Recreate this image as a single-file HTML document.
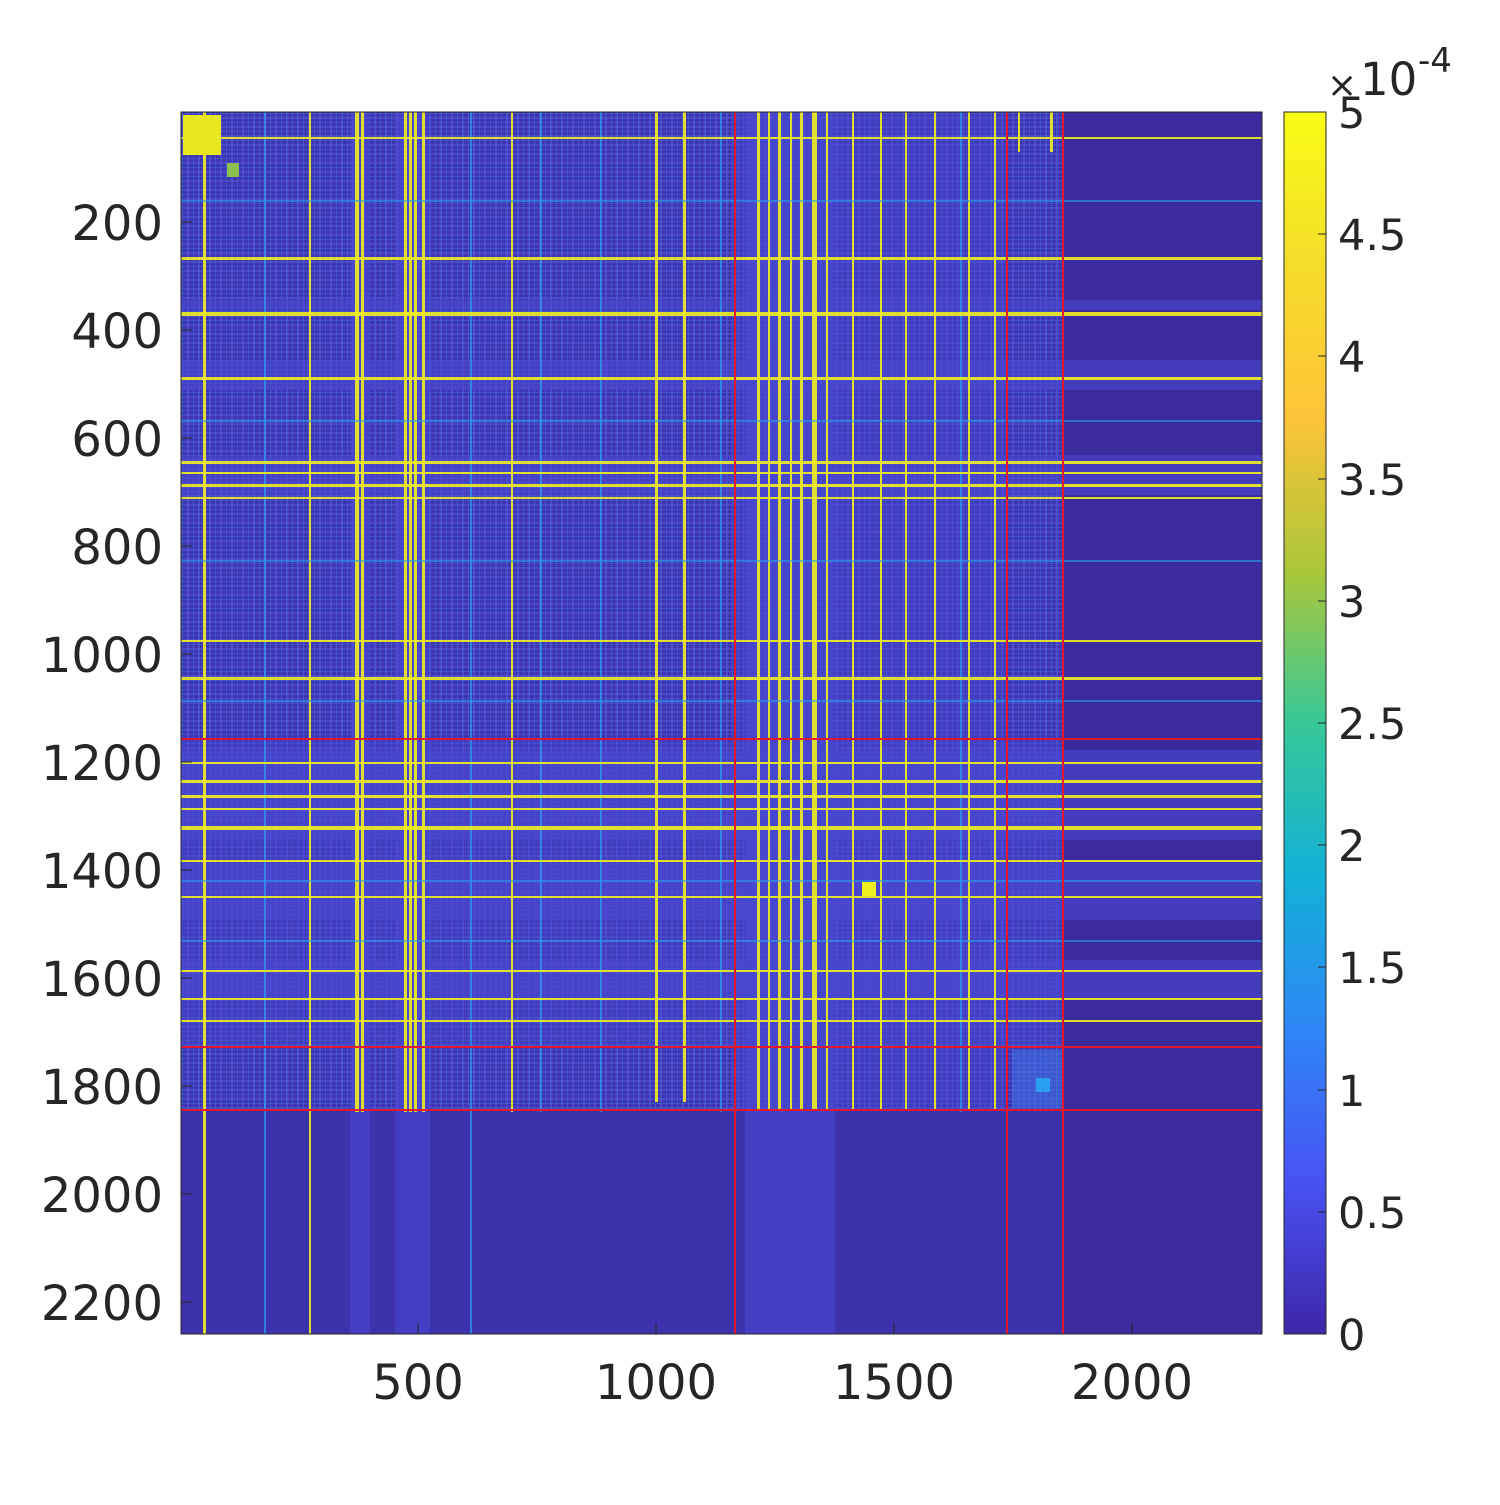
<!DOCTYPE html>
<html><head><style>
body{margin:0;background:#fff;}
svg text{font-family:"DejaVu Sans","Liberation Sans",sans-serif;fill:#262626;}
</style></head><body>
<svg width="1500" height="1500" viewBox="0 0 1500 1500" xmlns="http://www.w3.org/2000/svg">
<defs>
<linearGradient id="par" x1="0" y1="1" x2="0" y2="0">
<stop offset="0" stop-color="#3e26a8"/>
<stop offset="0.125" stop-color="#4852f4"/>
<stop offset="0.25" stop-color="#2e87f7"/>
<stop offset="0.375" stop-color="#12b1d6"/>
<stop offset="0.5" stop-color="#37c897"/>
<stop offset="0.625" stop-color="#abc739"/>
<stop offset="0.75" stop-color="#fec338"/>
<stop offset="0.875" stop-color="#f5dd2a"/>
<stop offset="1" stop-color="#f9fb15"/>
</linearGradient>
<pattern id="tv" width="11" height="13" patternUnits="userSpaceOnUse">
<rect x="0" y="0" width="2" height="13" fill="#5560e0" opacity="0.5"/>
<rect x="6" y="0" width="1" height="13" fill="#3a8ff0" opacity="0.35"/>
</pattern>
<pattern id="th" width="17" height="9" patternUnits="userSpaceOnUse">
<rect x="0" y="0" width="17" height="2" fill="#5560e0" opacity="0.45"/>
<rect x="0" y="5" width="17" height="1" fill="#3a8ff0" opacity="0.3"/>
</pattern>
<clipPath id="c"><rect x="181" y="112" width="1081" height="1222"/></clipPath>
</defs>
<g clip-path="url(#c)">
<rect x="181" y="112" width="1081" height="1222" fill="#3b2b9f"/>
<rect x="181" y="112" width="882" height="998" fill="#4034b2"/>
<rect x="181" y="112" width="882" height="998" fill="url(#tv)"/>
<rect x="181" y="112" width="882" height="998" fill="url(#th)"/>
<rect x="735" y="112" width="272" height="998" fill="#4a48d0" opacity="0.35"/>
<rect x="181" y="739" width="882" height="308" fill="#4a48d0" opacity="0.35"/>
<rect x="181" y="1110" width="882" height="224" fill="#3e31ac"/>
<!-- horizontal bands across -->
<g fill="#4a48d0" opacity="0.6">
<rect x="181" y="300" width="1081" height="10"/>
<rect x="181" y="360" width="1081" height="30"/>
<rect x="181" y="455" width="1081" height="40"/>
<rect x="181" y="750" width="1081" height="90"/>
<rect x="181" y="860" width="1081" height="60"/>
<rect x="181" y="960" width="1081" height="40"/>
</g>
<g fill="#4a48d0" opacity="0.6">
<rect x="350" y="112" width="20" height="1222"/>
<rect x="395" y="112" width="35" height="1222"/>
<rect x="745" y="112" width="90" height="1222"/>
</g>
<!-- yellow vertical lines -->
<g fill="#f0f020" opacity="0.9">
<rect x="203" y="112" width="3" height="1222"/>
<rect x="309" y="112" width="2" height="1222"/>
<rect x="355" y="112" width="4" height="1000"/>
<rect x="361" y="112" width="3" height="1000"/>
<rect x="404" y="112" width="3" height="1000"/>
<rect x="409" y="112" width="3" height="1000"/>
<rect x="414" y="112" width="3" height="1000"/>
<rect x="422" y="112" width="3" height="1000"/>
<rect x="511" y="112" width="2" height="1000"/>
<rect x="655" y="112" width="3" height="990"/>
<rect x="683" y="112" width="3" height="990"/>
<rect x="757" y="112" width="3" height="998"/>
<rect x="768" y="112" width="2" height="998"/>
<rect x="778" y="112" width="3" height="998"/>
<rect x="790" y="112" width="2" height="998"/>
<rect x="800" y="112" width="3" height="998"/>
<rect x="812" y="112" width="5" height="998"/>
<rect x="826" y="112" width="2" height="998"/>
<rect x="852" y="112" width="2" height="998"/>
<rect x="880" y="112" width="2" height="998"/>
<rect x="905" y="112" width="2" height="998"/>
<rect x="934" y="112" width="2" height="998"/>
<rect x="968" y="112" width="2" height="998"/>
<rect x="994" y="112" width="2" height="998"/>
<rect x="1018" y="112" width="2" height="40"/>
<rect x="1050" y="112" width="3" height="40"/>
</g>
<g fill="#2a9ff0" opacity="0.7">
<rect x="264" y="112" width="2" height="1222"/>
<rect x="470" y="112" width="2" height="1222"/>
<rect x="540" y="112" width="2" height="1000"/>
<rect x="600" y="112" width="2" height="1000"/>
<rect x="720" y="112" width="2" height="1000"/>
<rect x="960" y="112" width="2" height="1000"/>
</g>
<!-- yellow horizontal lines -->
<g fill="#f0f020" opacity="0.9">
<rect x="181" y="137" width="1081" height="2"/>
<rect x="181" y="257" width="1081" height="3"/>
<rect x="181" y="312" width="1081" height="4"/>
<rect x="181" y="377" width="1081" height="3"/>
<rect x="181" y="461" width="1081" height="3"/>
<rect x="181" y="472" width="1081" height="2"/>
<rect x="181" y="484" width="1081" height="3"/>
<rect x="181" y="497" width="1081" height="2"/>
<rect x="181" y="640" width="1081" height="2"/>
<rect x="181" y="677" width="1081" height="3"/>
<rect x="181" y="762" width="1081" height="2"/>
<rect x="181" y="780" width="1081" height="3"/>
<rect x="181" y="795" width="1081" height="3"/>
<rect x="181" y="808" width="1081" height="2"/>
<rect x="181" y="826" width="1081" height="4"/>
<rect x="181" y="860" width="1081" height="2"/>
<rect x="181" y="896" width="1081" height="2"/>
<rect x="181" y="970" width="1081" height="2"/>
<rect x="181" y="998" width="1081" height="2"/>
<rect x="181" y="1020" width="1081" height="2"/>
</g>
<g fill="#2a9ff0" opacity="0.6">
<rect x="181" y="200" width="1081" height="2"/>
<rect x="181" y="420" width="1081" height="2"/>
<rect x="181" y="560" width="1081" height="2"/>
<rect x="181" y="700" width="1081" height="2"/>
<rect x="181" y="880" width="1081" height="2"/>
<rect x="181" y="940" width="1081" height="2"/>
</g>
<rect x="183" y="115" width="38" height="40" fill="#e8e820"/>
<rect x="227" y="163" width="12" height="14" fill="#8cbf50"/>
<rect x="862" y="882" width="14" height="14" fill="#f0f020"/>
<rect x="1012" y="1050" width="50" height="58" fill="#3a78e8" opacity="0.5"/>
<rect x="1036" y="1078" width="14" height="14" fill="#2a9ff0"/>
<g fill="#e0182a">
<rect x="734" y="112" width="2" height="1222"/>
<rect x="1006" y="112" width="2" height="1222"/>
<rect x="1062" y="112" width="2" height="1222"/>
<rect x="181" y="738" width="1081" height="2"/>
<rect x="181" y="1046" width="1081" height="2"/>
<rect x="181" y="1109" width="1081" height="2"/>
</g>
</g>
<rect x="181" y="112" width="1081" height="1222" fill="none" stroke="#262626" stroke-width="1"/>
<g stroke="#262626" stroke-width="1">
<line x1="418" y1="1334" x2="418" y2="1323"/><line x1="656" y1="1334" x2="656" y2="1323"/>
<line x1="894" y1="1334" x2="894" y2="1323"/><line x1="1132" y1="1334" x2="1132" y2="1323"/>
<line x1="181" y1="222" x2="192" y2="222"/><line x1="181" y1="330" x2="192" y2="330"/>
<line x1="181" y1="438" x2="192" y2="438"/><line x1="181" y1="546" x2="192" y2="546"/>
<line x1="181" y1="654" x2="192" y2="654"/><line x1="181" y1="762" x2="192" y2="762"/>
<line x1="181" y1="870" x2="192" y2="870"/><line x1="181" y1="978" x2="192" y2="978"/>
<line x1="181" y1="1086" x2="192" y2="1086"/><line x1="181" y1="1194" x2="192" y2="1194"/>
<line x1="181" y1="1302" x2="192" y2="1302"/>
</g>
<g font-size="48" text-anchor="end">
<text x="163" y="240">200</text><text x="163" y="348">400</text><text x="163" y="456">600</text>
<text x="163" y="564">800</text><text x="163" y="672">1000</text><text x="163" y="780">1200</text>
<text x="163" y="888">1400</text><text x="163" y="996">1600</text><text x="163" y="1104">1800</text>
<text x="163" y="1212">2000</text><text x="163" y="1320">2200</text>
</g>
<g font-size="48" text-anchor="middle">
<text x="418" y="1399">500</text><text x="656" y="1399">1000</text>
<text x="894" y="1399">1500</text><text x="1132" y="1399">2000</text>
</g>
<rect x="1284" y="112" width="42" height="1222" fill="url(#par)" stroke="#262626" stroke-width="1"/>
<g stroke="#262626" stroke-width="1">
<line x1="1318" y1="1334" x2="1326" y2="1334"/><line x1="1318" y1="1212" x2="1326" y2="1212"/>
<line x1="1318" y1="1090" x2="1326" y2="1090"/><line x1="1318" y1="967" x2="1326" y2="967"/>
<line x1="1318" y1="845" x2="1326" y2="845"/><line x1="1318" y1="723" x2="1326" y2="723"/>
<line x1="1318" y1="601" x2="1326" y2="601"/><line x1="1318" y1="479" x2="1326" y2="479"/>
<line x1="1318" y1="356" x2="1326" y2="356"/><line x1="1318" y1="234" x2="1326" y2="234"/>
</g>
<g font-size="43">
<text x="1338" y="1350">0</text><text x="1338" y="1228">0.5</text><text x="1338" y="1106">1</text>
<text x="1338" y="983">1.5</text><text x="1338" y="861">2</text><text x="1338" y="739">2.5</text>
<text x="1338" y="617">3</text><text x="1338" y="495">3.5</text><text x="1338" y="372">4</text>
<text x="1338" y="250">4.5</text><text x="1338" y="128">5</text>
</g>
<text x="1327" y="97" font-size="36">×</text>
<text x="1360" y="95" font-size="45">10</text>
<text x="1418" y="72" font-size="34">-4</text>
</svg>
</body></html>
